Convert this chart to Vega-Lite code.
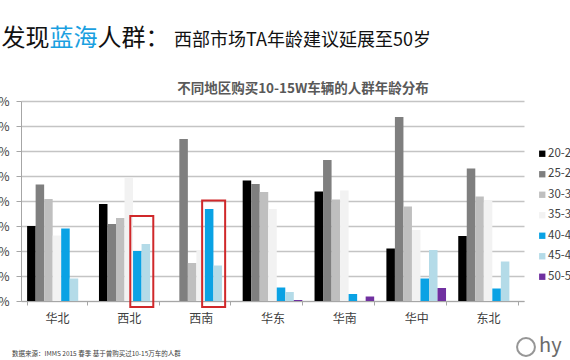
{
  "$schema": "https://vega.github.io/schema/vega-lite/v6.json",
  "width": 503,
  "height": 200,
  "autosize": {"type": "none"},
  "padding": {"left": 21, "top": 101, "right": 46, "bottom": 59},
  "background": "white",
  "config": {
    "font": "Noto Sans CJK SC",
    "view": {"stroke": null}
  },
  "datasets": {
    "ages": [
      {"region": "华北", "age": "20-24", "share": 15.0},
      {"region": "华北", "age": "25-29", "share": 23.3},
      {"region": "华北", "age": "30-34", "share": 20.4},
      {"region": "华北", "age": "35-39", "share": 13.1},
      {"region": "华北", "age": "40-44", "share": 14.5},
      {"region": "华北", "age": "45-49", "share": 4.5},
      {"region": "华北", "age": "50-54", "share": 0},
      {"region": "西北", "age": "20-24", "share": 19.4},
      {"region": "西北", "age": "25-29", "share": 15.4},
      {"region": "西北", "age": "30-34", "share": 16.6},
      {"region": "西北", "age": "35-39", "share": 24.6},
      {"region": "西北", "age": "40-44", "share": 10.0},
      {"region": "西北", "age": "45-49", "share": 11.4},
      {"region": "西北", "age": "50-54", "share": 0},
      {"region": "西南", "age": "20-24", "share": 0},
      {"region": "西南", "age": "25-29", "share": 32.4},
      {"region": "西南", "age": "30-34", "share": 7.6},
      {"region": "西南", "age": "35-39", "share": 10.2},
      {"region": "西南", "age": "40-44", "share": 18.4},
      {"region": "西南", "age": "45-49", "share": 7.1},
      {"region": "西南", "age": "50-54", "share": 0},
      {"region": "华东", "age": "20-24", "share": 24.1},
      {"region": "华东", "age": "25-29", "share": 23.4},
      {"region": "华东", "age": "30-34", "share": 21.8},
      {"region": "华东", "age": "35-39", "share": 18.4},
      {"region": "华东", "age": "40-44", "share": 2.7},
      {"region": "华东", "age": "45-49", "share": 1.8},
      {"region": "华东", "age": "50-54", "share": 0.2},
      {"region": "华南", "age": "20-24", "share": 21.9},
      {"region": "华南", "age": "25-29", "share": 28.2},
      {"region": "华南", "age": "30-34", "share": 20.3},
      {"region": "华南", "age": "35-39", "share": 22.1},
      {"region": "华南", "age": "40-44", "share": 1.4},
      {"region": "华南", "age": "45-49", "share": 0},
      {"region": "华南", "age": "50-54", "share": 0.9},
      {"region": "华中", "age": "20-24", "share": 10.5},
      {"region": "华中", "age": "25-29", "share": 36.8},
      {"region": "华中", "age": "30-34", "share": 18.9},
      {"region": "华中", "age": "35-39", "share": 14.2},
      {"region": "华中", "age": "40-44", "share": 4.5},
      {"region": "华中", "age": "45-49", "share": 10.2},
      {"region": "华中", "age": "50-54", "share": 2.6},
      {"region": "东北", "age": "20-24", "share": 13.0},
      {"region": "东北", "age": "25-29", "share": 26.5},
      {"region": "东北", "age": "30-34", "share": 20.9},
      {"region": "东北", "age": "35-39", "share": 20.1},
      {"region": "东北", "age": "40-44", "share": 2.5},
      {"region": "东北", "age": "45-49", "share": 7.9},
      {"region": "东北", "age": "50-54", "share": 0}
    ],
    "boxes": [
      {"region": "西北", "top": 17.0, "bottom": -1.2},
      {"region": "西南", "top": 20.1, "bottom": -1.2}
    ]
  },
  "layer": [
    {
      "data": {"name": "ages"},
      "mark": {"type": "bar"},
      "encoding": {
        "x": {
          "field": "region",
          "type": "nominal",
          "title": null,
          "scale": {
            "domain": ["华北", "西北", "西南", "华东", "华南", "华中", "东北"],
            "paddingInner": 0.17,
            "paddingOuter": 0.085
          },
          "axis": {
            "labelAngle": 0,
            "labelFontSize": 12,
            "labelColor": "#404040",
            "labelPadding": 8,
            "domainColor": "#a6a6a6",
            "domainWidth": 1,
            "tickBand": "extent",
            "tickColor": "#a6a6a6",
            "tickSize": 4,
            "grid": false
          }
        },
        "xOffset": {
          "field": "age",
          "type": "nominal",
          "scale": {
            "domain": ["20-24", "25-29", "30-34", "35-39", "40-44", "45-49", "50-54"],
            "paddingInner": 0,
            "paddingOuter": 0
          }
        },
        "y": {
          "field": "share",
          "type": "quantitative",
          "title": null,
          "scale": {"domain": [0, 40], "nice": false},
          "axis": {
            "values": [0, 5, 10, 15, 20, 25, 30, 35, 40],
            "labelExpr": "datum.value + '%'",
            "labelFontSize": 12,
            "labelColor": "#404040",
            "labelPadding": 7,
            "labelOverlap": false,
            "tickSize": 5,
            "tickColor": "#a6a6a6",
            "domainColor": "#a6a6a6",
            "gridColor": "#c4c4c4",
            "gridWidth": 1.5
          }
        },
        "color": {
          "field": "age",
          "type": "nominal",
          "scale": {
            "domain": ["20-24", "25-29", "30-34", "35-39", "40-44", "45-49", "50-54"],
            "range": ["#000000", "#7f7f7f", "#bfbfbf", "#f2f2f2", "#0aa2e4", "#b4dbe8", "#7030a0"]
          },
          "legend": {
            "title": null,
            "orient": "none",
            "legendX": 515.5,
            "legendY": 47,
            "symbolType": "square",
            "symbolSize": 40,
            "symbolStrokeWidth": 0,
            "labelFontSize": 11.5,
            "labelColor": "#404040",
            "labelOffset": 0,
            "rowPadding": 7.5,
            "padding": 0
          }
        }
      }
    },
    {
      "data": {"name": "boxes"},
      "mark": {
        "type": "bar",
        "width": 23,
        "xOffset": 13,
        "fillOpacity": 0,
        "stroke": "#d0282a",
        "strokeWidth": 2
      },
      "encoding": {
        "x": {
          "field": "region",
          "type": "nominal",
          "title": null,
          "axis": {
            "labelAngle": 0,
            "labelFontSize": 12,
            "labelColor": "#404040",
            "labelPadding": 8,
            "domainColor": "#a6a6a6",
            "domainWidth": 1,
            "tickBand": "extent",
            "tickColor": "#a6a6a6",
            "tickSize": 4,
            "grid": false
          }
        },
        "y": {
          "field": "top",
          "type": "quantitative",
          "title": null,
          "axis": {
            "values": [0, 5, 10, 15, 20, 25, 30, 35, 40],
            "labelExpr": "datum.value + '%'",
            "labelFontSize": 12,
            "labelColor": "#404040",
            "labelPadding": 7,
            "labelOverlap": false,
            "tickSize": 5,
            "tickColor": "#a6a6a6",
            "domainColor": "#a6a6a6",
            "gridColor": "#c4c4c4",
            "gridWidth": 1.5
          }
        },
        "y2": {"field": "bottom"}
      }
    },
    {
      "data": {"values": [{"t": "不同地区购买10-15W车辆的人群年龄分布"}]},
      "mark": {"type": "text", "align": "center", "baseline": "middle", "fontSize": 13.5, "fontWeight": "bold", "color": "#595959", "x": 282, "y": -12},
      "encoding": {"text": {"field": "t"}}
    },
    {
      "data": {"values": [{"t": "发现"}]},
      "mark": {"type": "text", "align": "left", "baseline": "alphabetic", "fontSize": 24, "color": "#111111", "x": -19.5, "y": -55.5},
      "encoding": {"text": {"field": "t"}}
    },
    {
      "data": {"values": [{"t": "蓝海"}]},
      "mark": {"type": "text", "align": "left", "baseline": "alphabetic", "fontSize": 24, "color": "#1aa0e0", "x": 28.5, "y": -55.5},
      "encoding": {"text": {"field": "t"}}
    },
    {
      "data": {"values": [{"t": "人群："}]},
      "mark": {"type": "text", "align": "left", "baseline": "alphabetic", "fontSize": 24, "color": "#111111", "x": 76.5, "y": -55.5},
      "encoding": {"text": {"field": "t"}}
    },
    {
      "data": {"values": [{"t": "西部市场TA年龄建议延展至50岁"}]},
      "mark": {"type": "text", "align": "left", "baseline": "alphabetic", "fontSize": 18, "color": "#111111", "x": 153, "y": -55},
      "encoding": {"text": {"field": "t"}}
    },
    {
      "data": {"values": [{"t": "数据来源：IMMS 2015 春季  基于曾购买过10-15万车的人群"}]},
      "mark": {"type": "text", "align": "left", "baseline": "middle", "fontSize": 6.5, "color": "#404040", "x": -9, "y": 253},
      "encoding": {"text": {"field": "t"}}
    },
    {
      "data": {"values": [{"t": "hy"}]},
      "mark": {"type": "text", "align": "left", "baseline": "middle", "fontSize": 20, "color": "#6b6b6b", "x": 518, "y": 245},
      "encoding": {"text": {"field": "t"}}
    },
    {
      "data": {"values": [{"t": "logo"}]},
      "mark": {"type": "point", "shape": "circle", "size": 320, "filled": false, "stroke": "#6b6b6b", "strokeWidth": 2, "x": 505, "y": 246},
      "encoding": {}
    }
  ]
}
